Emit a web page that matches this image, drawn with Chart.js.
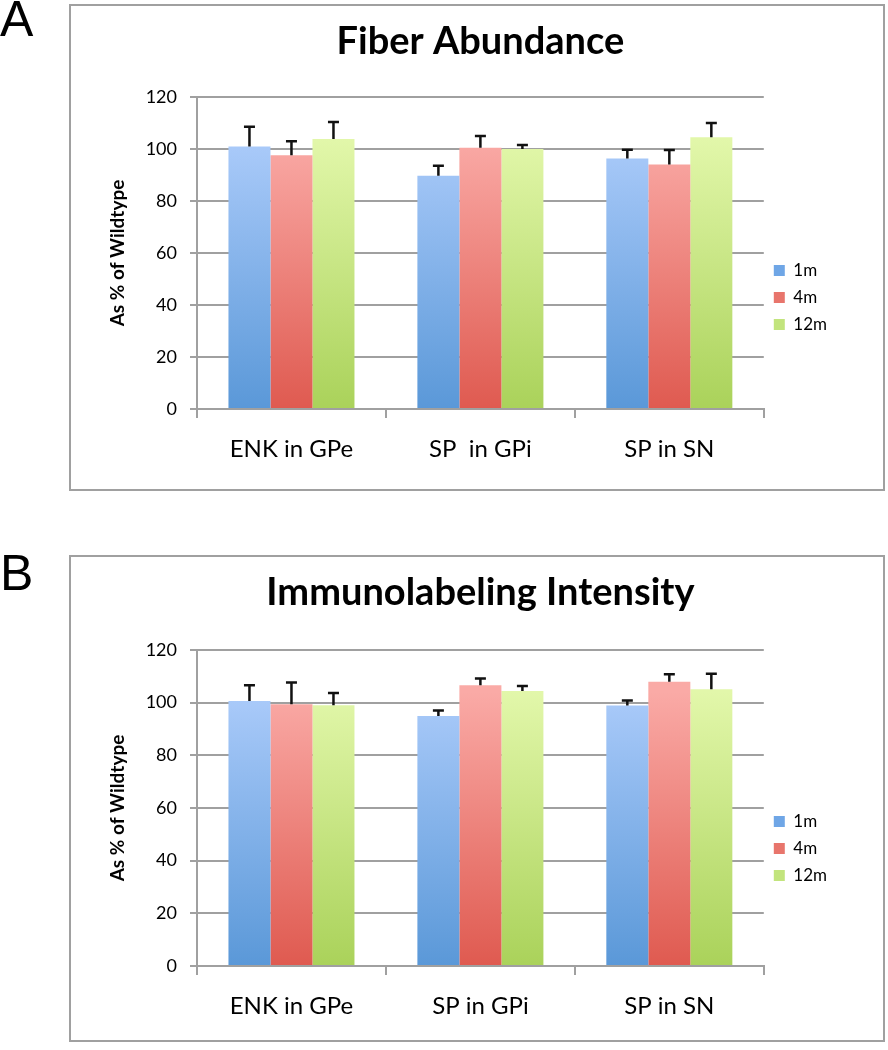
<!DOCTYPE html>
<html>
<head>
<meta charset="utf-8">
<script src="https://cdn.jsdelivr.net/npm/chart.js@4.4.1/dist/chart.umd.min.js"></script>
<style>
  html, body { margin: 0; padding: 0; background: #fff; }
  body { width: 888px; height: 1050px; position: relative; overflow: hidden; font-family: Lato, "Open Sans", sans-serif; }
  .letter { position: absolute; left: 0px; font: 50px "Liberation Sans", Arial, sans-serif; color: #000; line-height: 1; }
  .frame { position: absolute; left: 69px; width: 816px; border: 2px solid #a0a0a0; box-sizing: border-box; }
  .frame canvas { display: block; }
</style>
</head>
<body>
<div class="letter" style="top:-6px">A</div>
<div class="letter" style="top:548px">B</div>
<div class="frame" style="top:4px;height:487px"><canvas id="chartA" width="812" height="483"></canvas></div>
<div class="frame" style="top:555px;height:487px"><canvas id="chartB" width="812" height="483"></canvas></div>
<script>
(function () {
    'use strict';

    var categoriesA = ['ENK in GPe', 'SP  in GPi', 'SP in SN'];
    var categoriesB = ['ENK in GPe', 'SP in GPi', 'SP in SN'];
    var seriesNames = ['1m', '4m', '12m'];
    var yTicks = [0, 20, 40, 60, 80, 100, 120];

    // Fiber Abundance (as % of wildtype) and upper error
    var fiber1m = [101.0, 89.7, 96.3];
    var fiber4m = [97.6, 100.5, 94.0];
    var fiber12m = [103.8, 100.0, 104.5];
    var fiberErr1m = [7.6, 3.9, 3.4];
    var fiberErr4m = [5.4, 4.5, 5.6];
    var fiberErr12m = [6.6, 1.5, 5.5];

    // Immunolabeling Intensity
    var immuno1m = [100.6, 94.9, 98.9];
    var immuno4m = [99.4, 106.6, 107.9];
    var immuno12m = [99.0, 104.4, 105.1];
    var immunoErr1m = [6.0, 2.1, 1.9];
    var immunoErr4m = [8.3, 2.6, 2.9];
    var immunoErr12m = [4.7, 1.9, 5.9];

    var gradStops = [
        ['#abcbfa', '#5a98d8'],
        ['#faaaa6', '#df5a50'],
        ['#e2f7aa', '#aad25a']
    ];
    var legendColors = ['#6fa6e6', '#e8756c', '#c2e47d'];
    var gridGray = '#a0a0a0';
    var font = 'Lato, "Open Sans", sans-serif';

    function barFill(idx) {
        return function (c) {
            var chart = c.chart;
            if (!chart.chartArea || !chart.scales.y) { return legendColors[idx]; }
            var y = chart.scales.y;
            var g = chart.ctx.createLinearGradient(0, y.getPixelForValue(104), 0, y.getPixelForValue(0));
            g.addColorStop(0, gradStops[idx][0]);
            g.addColorStop(1, gradStops[idx][1]);
            return g;
        };
    }

    var errorBars = {
        id: 'errorBars',
        afterDatasetsDraw: function (chart) {
            var ctx = chart.ctx;
            var y = chart.scales.y;
            ctx.save();
            ctx.strokeStyle = '#111';
            ctx.lineWidth = 2.5;
            chart.data.datasets.forEach(function (ds, i) {
                var meta = chart.getDatasetMeta(i);
                meta.data.forEach(function (bar, j) {
                    var top = y.getPixelForValue(ds.data[j] + ds.errors[j]);
                    ctx.beginPath();
                    ctx.moveTo(bar.x, bar.y);
                    ctx.lineTo(bar.x, top);
                    ctx.moveTo(bar.x - 5.5, top);
                    ctx.lineTo(bar.x + 5.5, top);
                    ctx.stroke();
                });
            });
            ctx.restore();
        }
    };

    function makeChart(id, title, cats, values, errors, plotTop, plotBottom) {
        var el = document.getElementById(id);
        var datasets = values.map(function (vals, i) {
            return {
                label: seriesNames[i],
                data: vals,
                errors: errors[i],
                backgroundColor: barFill(i),
                borderWidth: 0,
                categoryPercentage: 0.667,
                barPercentage: 1.0
            };
        });
        return new Chart(el, {
            type: 'bar',
            data: { labels: cats, datasets: datasets },
            plugins: [errorBars],
            options: {
                responsive: false,
                animation: false,
                layout: { padding: { left: 0, right: 46, top: 0, bottom: 0 } },
                plugins: {
                    title: {
                        display: true, text: title, color: '#000', fullSize: false,
                        font: { family: font, size: 38, weight: 'bold' },
                        padding: { top: 13, bottom: plotTop - 13 - 45.6 }
                    },
                    legend: {
                        position: 'right', align: 'center',
                        title: { display: true, text: '', padding: 0, font: { size: 100, lineHeight: 1 } },
                        labels: {
                            boxWidth: 11, boxHeight: 11, padding: 10, color: '#000',
                            font: { family: font, size: 17 },
                            generateLabels: function (chart) {
                                return chart.data.datasets.map(function (ds, i) {
                                    return { text: ds.label, fillStyle: legendColors[i], strokeStyle: legendColors[i], fontColor: '#000', lineWidth: 0, datasetIndex: i };
                                });
                            }
                        }
                    },
                    tooltip: { enabled: false }
                },
                scales: {
                    x: {
                        grid: { display: true, offset: true, drawOnChartArea: false, color: gridGray, lineWidth: 2, tickLength: 9 },
                        border: { display: true, color: gridGray, width: 2 },
                        ticks: { color: '#000', font: { family: font, size: 24 }, padding: 17 },
                        afterFit: function (s) { s.height = 483 - plotBottom; }
                    },
                    y: {
                        min: 0, max: 120,
                        afterBuildTicks: function (s) { s.ticks = yTicks.map(function (v) { return { value: v }; }); },
                        grid: { color: gridGray, lineWidth: 2, tickLength: 7 },
                        border: { display: true, color: gridGray, width: 2 },
                        ticks: { color: '#000', font: { family: font, size: 18 }, padding: 13 },
                        title: {
                            display: true, text: 'As % of Wildtype', color: '#000',
                            font: { family: font, size: 19, weight: 'bold' },
                            padding: { top: 35, bottom: 0 }
                        },
                        afterFit: function (s) { s.width = 126; }
                    }
                }
            }
        });
    }

    makeChart('chartA', 'Fiber Abundance', categoriesA,
        [fiber1m, fiber4m, fiber12m], [fiberErr1m, fiberErr4m, fiberErr12m], 91, 403);
    makeChart('chartB', 'Immunolabeling Intensity', categoriesB,
        [immuno1m, immuno4m, immuno12m], [immunoErr1m, immunoErr4m, immunoErr12m], 93, 409);
})();
</script>
</body>
</html>
